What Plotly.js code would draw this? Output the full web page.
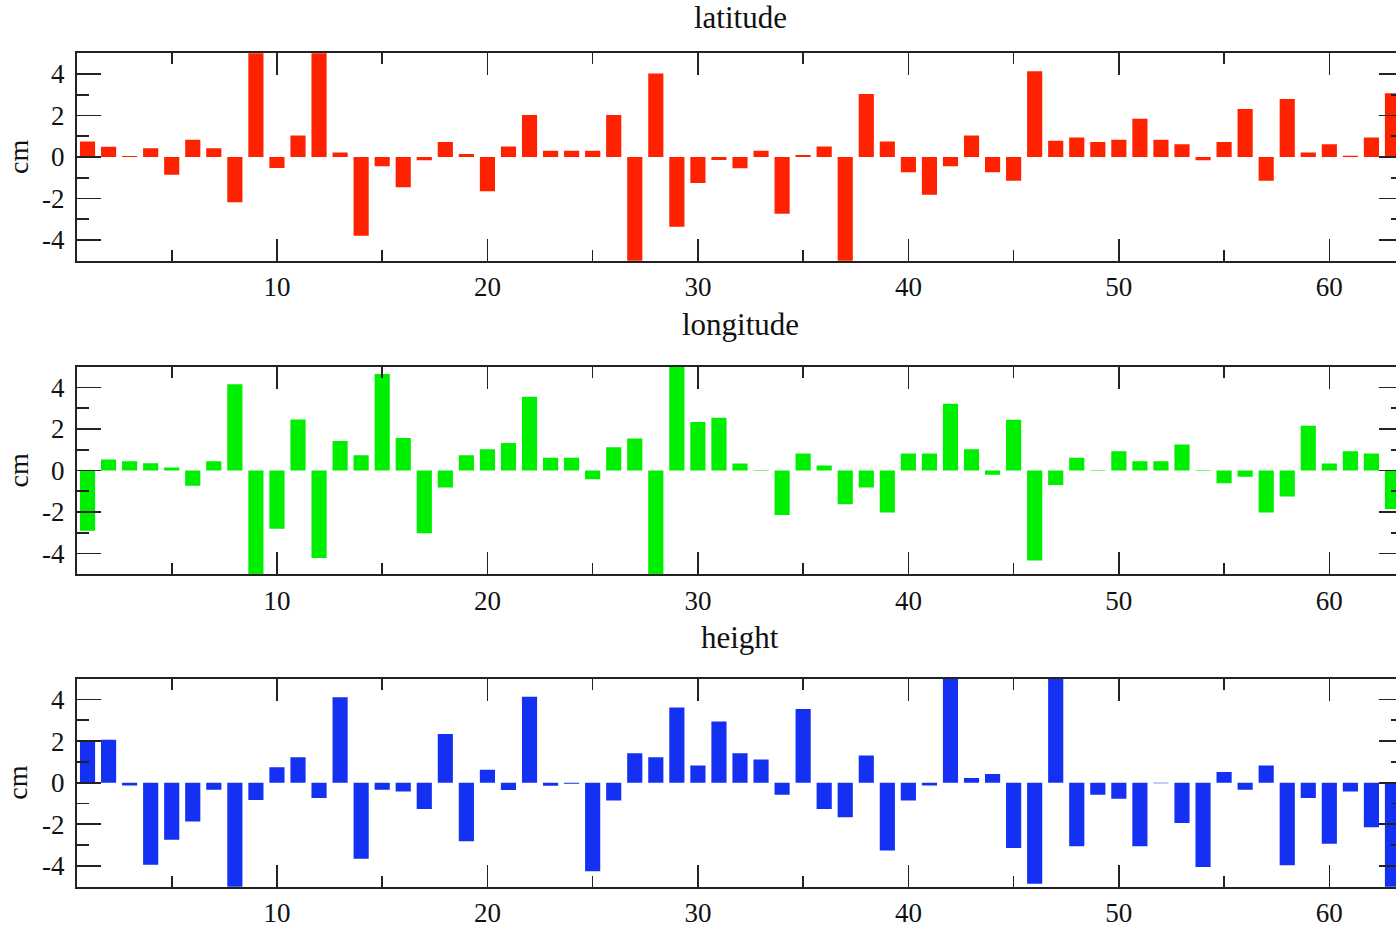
<!DOCTYPE html>
<html>
<head>
<meta charset="utf-8">
<script src="https://cdn.plot.ly/plotly-3.0.1.min.js"></script>
<style>
html, body { margin: 0; padding: 0; overflow: hidden; background: #fff; }
#chart { width: 1410px; height: 929px; }
</style>
</head>
<body>
<div id="chart"></div>
<script>
// Station index 1..63
const stations = Array.from({length: 63}, (_, k) => k + 1);

const latitude = [
  0.75, 0.5, 0.05, 0.42, -0.85, 0.83, 0.42, -2.18, 5.6, -0.53,
  1.04, 5.6, 0.22, -3.8, -0.45, -1.46, -0.16, 0.72, 0.14, -1.65,
  0.51, 2.02, 0.3, 0.3, 0.3, 2.02, -5.6, 4.03, -3.36, -1.25,
  -0.15, -0.54, 0.3, -2.74, 0.1, 0.51, -5.6, 3.04, 0.75, -0.74,
  -1.82, -0.44, 1.04, -0.74, -1.15, 4.14, 0.78, 0.94, 0.72, 0.83,
  1.84, 0.83, 0.62, -0.16, 0.72, 2.32, -1.15, 2.8, 0.22, 0.62,
  0.06, 0.94, 3.07
];

const longitude = [
  -2.9, 0.53, 0.45, 0.35, 0.14, -0.74, 0.45, 4.15, -5.6, -2.81,
  2.46, -4.22, 1.42, 0.74, 4.65, 1.57, -3.02, -0.82, 0.74, 1.02,
  1.33, 3.55, 0.62, 0.62, -0.42, 1.12, 1.54, -5.6, 5.4, 2.34,
  2.54, 0.34, 0.03, -2.14, 0.82, 0.24, -1.63, -0.82, -2.02, 0.82,
  0.82, 3.22, 1.02, -0.2, 2.45, -4.34, -0.7, 0.62, 0.03, 0.93,
  0.45, 0.45, 1.25, 0.03, -0.61, -0.3, -2.02, -1.25, 2.16, 0.34,
  0.93, 0.82, -1.86
];

const heightVals = [
  2.0, 2.06, -0.13, -3.94, -2.74, -1.86, -0.34, -5.6, -0.83, 0.74,
  1.22, -0.74, 4.11, -3.66, -0.34, -0.42, -1.26, 2.34, -2.82, 0.62,
  -0.35, 4.13, -0.15, -0.05, -4.26, -0.85, 1.42, 1.22, 3.62, 0.83,
  2.94, 1.42, 1.12, -0.58, 3.54, -1.26, -1.66, 1.31, -3.26, -0.85,
  -0.14, 5.6, 0.22, 0.42, -3.14, -4.86, 5.6, -3.06, -0.58, -0.77,
  -3.06, -0.03, -1.94, -4.05, 0.51, -0.34, 0.83, -3.97, -0.74, -2.94,
  -0.42, -2.14, -5.6
];

const panelTitles = ['latitude', 'longitude', 'height'];
const unitLabel = 'cm';
const xTickVals = [10, 20, 30, 40, 50, 60];
const yTickVals = [-4, -2, 0, 2, 4];

const colors = ['#ff2200', '#00ee00', '#1430f2'];
const series = [latitude, longitude, heightVals];

const FONT = 'Liberation Serif, Times New Roman, serif';

const traces = series.map((vals, k) => ({
  type: 'bar',
  x: stations,
  y: vals,
  width: 0.72,
  marker: { color: colors[k], line: { width: 0 } },
  xaxis: k === 0 ? 'x' : 'x' + (k + 1),
  yaxis: k === 0 ? 'y' : 'y' + (k + 1),
  hoverinfo: 'x+y',
  showlegend: false
}));

const H = 929;
const panels = [[53.3, 260.7], [366.7, 574.3], [678.7, 886.7]];
const titleY = [18, 325, 637];

function xAxis(k) {
  return {
    domain: [0, 1],
    range: [0.5, 63.5],
    anchor: k === 0 ? 'y' : 'y' + (k + 1),
    tickmode: 'array',
    tickvals: xTickVals,
    ticktext: xTickVals.map(String),
    ticks: 'inside',
    ticklen: 22,
    tickwidth: 1.6,
    tickcolor: '#222',
    minor: { ticks: 'inside', ticklen: 11, tickwidth: 1.6, tickcolor: '#222', dtick: 5, tick0: 0, showgrid: false },
    showline: true,
    linecolor: '#222',
    linewidth: 2,
    mirror: 'ticks',
    showgrid: false,
    zeroline: false,
    ticklabelstandoff: 1,
    tickfont: { family: FONT, size: 27, color: '#111' },
    fixedrange: true
  };
}

function yAxis(k) {
  const p = panels[k];
  return {
    domain: [1 - p[1] / H, 1 - p[0] / H],
    range: [-5, 5],
    anchor: k === 0 ? 'x' : 'x' + (k + 1),
    tickmode: 'array',
    tickvals: yTickVals,
    ticktext: yTickVals.map(String),
    ticks: 'inside',
    ticklen: 24,
    tickwidth: 1.6,
    tickcolor: '#222',
    minor: { ticks: 'inside', ticklen: 12, tickwidth: 1.6, tickcolor: '#222', dtick: 1, tick0: 0, showgrid: false },
    showline: true,
    linecolor: '#222',
    linewidth: 2,
    mirror: 'ticks',
    showgrid: false,
    zeroline: false,
    ticklabelstandoff: 5,
    tickfont: { family: FONT, size: 27, color: '#111' },
    fixedrange: true
  };
}

const annotations = [];
panelTitles.forEach((t, k) => {
  const p = panels[k];
  annotations.push({
    text: t, xref: 'paper', yref: 'paper',
    x: 0.5, y: 1 - titleY[k] / H,
    xanchor: 'center', yanchor: 'middle', showarrow: false,
    font: { family: FONT, size: 31, color: '#111' }
  });
  annotations.push({
    text: unitLabel, xref: 'paper', yref: 'paper',
    x: (18 - 77) / 1326, y: 1 - ((p[0] + p[1]) / 2) / H,
    xanchor: 'center', yanchor: 'middle', showarrow: false, textangle: -90,
    font: { family: FONT, size: 28, color: '#111' }
  });
});

const layout = {
  width: 1410,
  height: H,
  margin: { l: 77, r: 7, t: 0, b: 0 },
  paper_bgcolor: '#ffffff',
  plot_bgcolor: '#ffffff',
  bargap: 0.28,
  xaxis: xAxis(0), xaxis2: xAxis(1), xaxis3: xAxis(2),
  yaxis: yAxis(0), yaxis2: yAxis(1), yaxis3: yAxis(2),
  annotations: annotations,
  showlegend: false
};

Plotly.newPlot('chart', traces, layout, { displayModeBar: false, staticPlot: true });
</script>
</body>
</html>
